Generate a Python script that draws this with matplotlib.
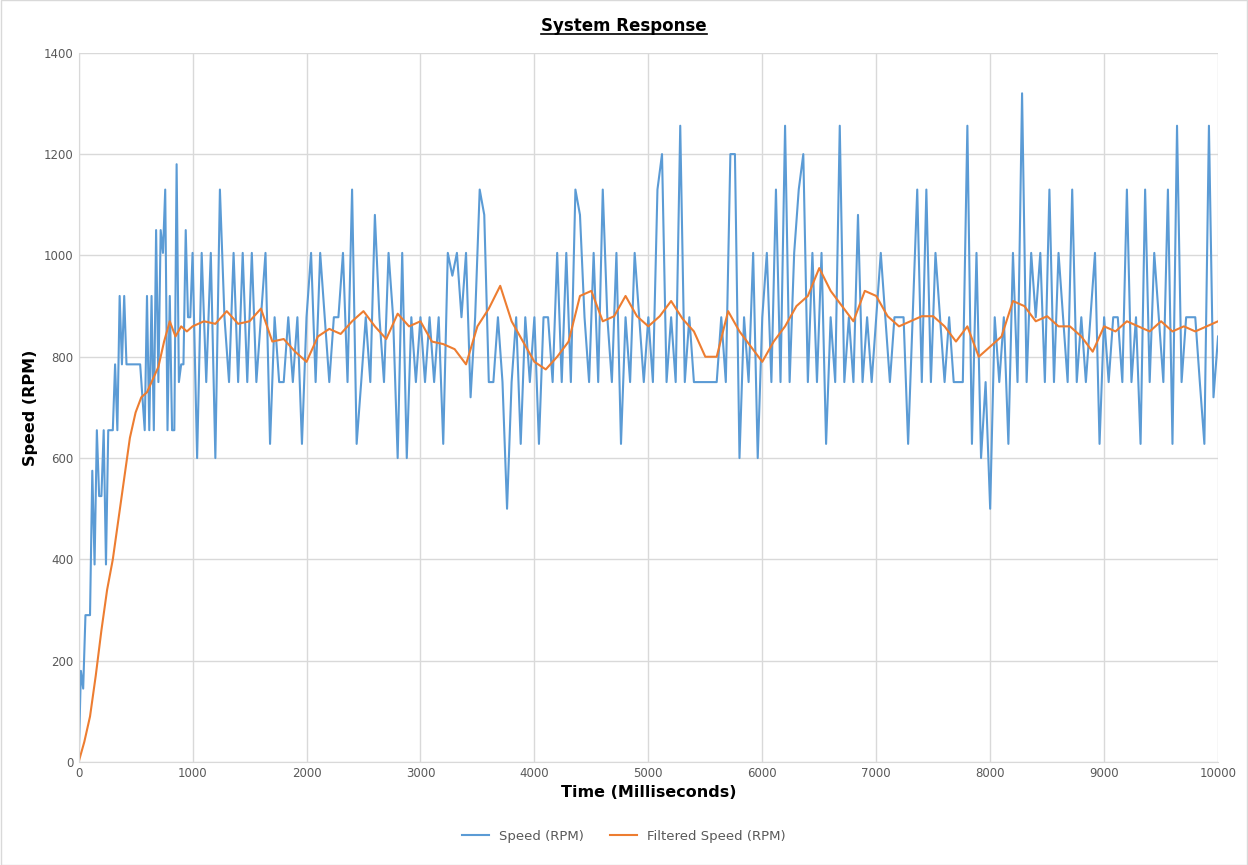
import numpy as np
import matplotlib.pyplot as plt

speed_early = [0, 180, 145, 290, 290, 290, 575, 390, 655, 525, 525, 655, 390, 655, 655, 655, 785, 655, 920, 785,
               920, 785, 785, 785, 785, 785, 785, 785, 720, 655, 920, 655, 920, 655, 1050, 750, 1050, 1005, 1130, 655,
               920, 655, 655, 1180, 750, 785, 785, 1050, 878, 878]
speed_late = [
    1005, 600, 1005, 750, 1005, 600, 1130, 878, 750, 1005, 750, 1005, 750, 1005, 750, 878, 1005, 628, 878, 750, 750, 878, 750, 878, 628,
    878, 1005, 750, 1005, 878, 750, 878, 878, 1005, 750, 1130, 628, 750, 878, 750, 1080, 878, 750, 1005, 878, 600, 1005, 600, 878, 750,
    878, 750, 878, 750, 878, 628, 1005, 960, 1005, 878, 1005, 720, 878, 1130, 1080, 750, 750, 878, 750, 500, 750, 878, 628, 878, 750,
    878, 628, 878, 878, 750, 1005, 750, 1005, 750, 1130, 1080, 878, 750, 1005, 750, 1130, 878, 750, 1005, 628, 878, 750, 1005, 878, 750,
    878, 750, 1130, 1200, 750, 878, 750, 1256, 750, 878, 750, 750, 750, 750, 750, 750, 878, 750, 1200, 1200, 600, 878, 750, 1005, 600,
    878, 1005, 750, 1130, 750, 1256, 750, 1005, 1130, 1200, 750, 1005, 750, 1005, 628, 878, 750, 1256, 750, 878, 750, 1080, 750, 878, 750,
    878, 1005, 878, 750, 878, 878, 878, 628, 878, 1130, 750, 1130, 750, 1005, 878, 750, 878, 750, 750, 750, 1256, 628, 1005, 600, 750,
    500, 878, 750, 878, 628, 1005, 750, 1320, 750, 1005, 878, 1005, 750, 1130, 750, 1005, 878, 750, 1130, 750, 878, 750, 878, 1005, 628,
    878, 750, 878, 878, 750, 1130, 750, 878, 628, 1130, 750, 1005, 878, 750, 1130, 628, 1256, 750, 878, 878, 878, 750, 628, 1256, 720,
    840]

filt_early = [0, 40, 90, 170, 260, 340, 400, 480, 560, 640, 690, 720, 730, 755, 780, 830, 870, 840, 860, 850]
filt_late = [860, 870, 865, 890, 865, 870, 895, 830, 835, 810,
             790, 840, 855, 845, 870, 890, 860, 835, 885, 860,
             870, 830, 825, 815, 785, 860, 895, 940, 870, 830,
             790, 775, 800, 830, 920, 930, 870, 880, 920, 880,
             860, 880, 910, 875, 850, 800, 800, 890, 850, 820,
             790, 830, 860, 900, 920, 975, 930, 900, 870, 930,
             920, 880, 860, 870, 880, 880, 860, 830, 860, 800,
             820, 840, 910, 900, 870, 880, 860, 860, 840, 810,
             860, 850, 870, 860, 850, 870, 850, 860, 850, 860,
             870]

t_speed = np.concatenate([np.arange(0, 1000, 20), np.arange(1000, 10001, 40)])
t_filt = np.concatenate([np.arange(0, 1000, 50), np.arange(1000, 10001, 100)])
speed = np.array(speed_early + speed_late)
filt = np.array(filt_early + filt_late)

fig = plt.figure(figsize=(12.48, 8.65), dpi=100)
ax = fig.add_axes([0.063, 0.119, 0.913, 0.82])
ax.plot(t_speed, speed, color="#5B9BD5", lw=1.5, label="Speed (RPM)")
ax.plot(t_filt, filt, color="#ED7D31", lw=1.5, label="Filtered Speed (RPM)")
ax.set_xlim(0, 10000)
ax.set_ylim(0, 1400)
ax.set_xticks(range(0, 10001, 1000))
ax.set_yticks(range(0, 1401, 200))
ax.grid(color="#D9D9D9", lw=1)
ax.set_axisbelow(True)
ax.tick_params(length=0, labelsize=8.5, colors="#595959")
for s in ["top", "right"]:
    ax.spines[s].set_visible(False)
for s in ["left", "bottom"]:
    ax.spines[s].set_color("#D9D9D9")
ax.set_xlabel("Time (Milliseconds)", fontsize=11.5, fontweight="bold")
ax.set_ylabel("Speed (RPM)", fontsize=11.5, fontweight="bold")
t = fig.text(0.5, 0.97, "System Response", ha="center", va="center", fontsize=12, fontweight="bold")
# underline the title
fig.canvas.draw()
bb = t.get_window_extent().transformed(fig.transFigure.inverted())
fig.add_artist(plt.Line2D([bb.x0, bb.x1], [bb.y0 + 0.001, bb.y0 + 0.001], color="black", lw=1.2))
fig.legend(loc="lower center", ncol=2, frameon=False, fontsize=9.5, bbox_to_anchor=(0.5, 0.012),
           labelcolor="#595959")
fig.add_artist(plt.Rectangle((0.0005, 0.0005), 0.999, 0.999, fill=False, ec="#D9D9D9", lw=1,
                             transform=fig.transFigure))
fig.savefig("out.png", dpi=100)
